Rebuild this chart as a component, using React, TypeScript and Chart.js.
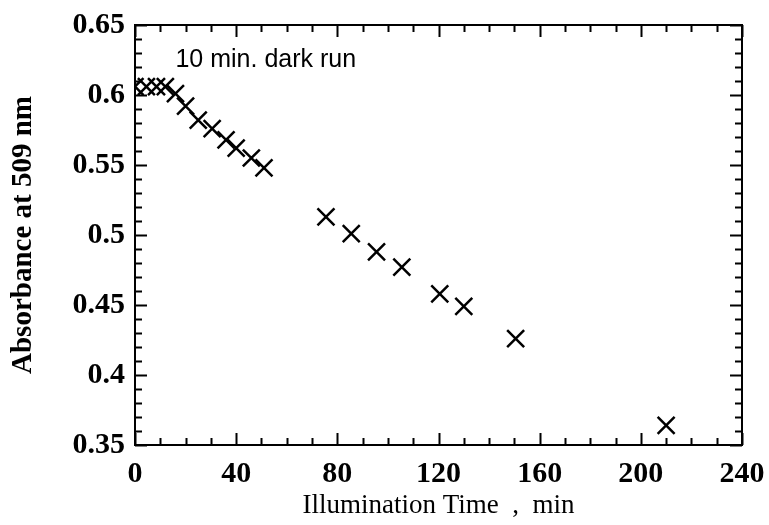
import React, { useEffect, useRef } from "react";
import { Chart, registerables } from "chart.js";

Chart.register(...registerables);

const timeMin = [0, 4.5, 8.5, 12, 16, 20, 25, 30.5, 36, 40, 46, 51, 75.5, 85.5, 95.5, 105.5, 120.5, 130, 150.5, 210];
const absorbance = [0.606, 0.606, 0.606, 0.606, 0.601, 0.592, 0.582, 0.576, 0.568, 0.562, 0.555, 0.548, 0.513, 0.501, 0.488, 0.477, 0.458, 0.449, 0.426, 0.364];

const xTickValues = [0, 40, 80, 120, 160, 200, 240];
const yTickValues = [0.35, 0.4, 0.45, 0.5, 0.55, 0.6, 0.65];
const yTickLabels = ["0.35", "0.4", "0.45", "0.5", "0.55", "0.6", "0.65"];
const xMinorStep = 10;
const yMinorStep = 0.01;

const annotationText = "10 min. dark run";
const annotationAt = { x: 16, y: 0.625 };

const xTitle = "Illumination Time  ,  min";
const yTitle = "Absorbance at 509 nm";

const boxTicksPlugin = {
  id: "boxTicks",
  afterDraw(chart: any) {
    const { ctx, chartArea } = chart;
    const xs = chart.scales.x;
    const ys = chart.scales.y;
    const { left, right, top, bottom } = chartArea;
    ctx.save();
    ctx.strokeStyle = "#000";
    ctx.lineWidth = 2;
    ctx.strokeRect(left, top, right - left, bottom - top);
    const majLen = 12;
    const minLen = 7;
    ctx.lineWidth = 2;
    ctx.beginPath();
    const xMin = xTickValues[0];
    const xMax = xTickValues[xTickValues.length - 1];
    for (let v = xMin; v <= xMax + 1e-9; v += xMinorStep) {
      const isMajor = xTickValues.some((t) => Math.abs(t - v) < 1e-6);
      const len = isMajor ? majLen : minLen;
      const px = Math.round(xs.getPixelForValue(v)) + 0.5;
      ctx.moveTo(px, bottom);
      ctx.lineTo(px, bottom - len);
      ctx.moveTo(px, top);
      ctx.lineTo(px, top + len);
    }
    const yMin = yTickValues[0];
    const yMax = yTickValues[yTickValues.length - 1];
    const n = Math.round((yMax - yMin) / yMinorStep);
    for (let i = 0; i <= n; i++) {
      const v = yMin + i * yMinorStep;
      const isMajor = yTickValues.some((t) => Math.abs(t - v) < 1e-6);
      const len = isMajor ? majLen : minLen;
      const py = Math.round(ys.getPixelForValue(v)) + 0.5;
      ctx.moveTo(left, py);
      ctx.lineTo(left + len, py);
      ctx.moveTo(right, py);
      ctx.lineTo(right - len, py);
    }
    ctx.stroke();

    ctx.fillStyle = "#000";
    ctx.font = "25px 'Liberation Sans', Arial, sans-serif";
    ctx.textAlign = "left";
    ctx.textBaseline = "middle";
    ctx.fillText(annotationText, xs.getPixelForValue(annotationAt.x), ys.getPixelForValue(annotationAt.y));
    ctx.restore();
  },
};

const bgPlugin = {
  id: "bg",
  beforeDraw(chart: any) {
    const { ctx, width, height } = chart;
    ctx.save();
    ctx.fillStyle = "#fff";
    ctx.fillRect(0, 0, width, height);
    ctx.restore();
  },
};

export default function App() {
  const ref = useRef<HTMLCanvasElement | null>(null);
  useEffect(() => {
    if (!ref.current) return;
    const serif = "'Liberation Serif', 'Times New Roman', serif";
    const chart = new Chart(ref.current, {
      type: "scatter",
      data: {
        datasets: [
          {
            data: timeMin.map((t, i) => ({ x: t, y: absorbance[i] })),
            pointStyle: "crossRot",
            pointRadius: 12,
            pointBorderWidth: 2.5,
            borderColor: "#000",
            backgroundColor: "#000",
            showLine: false,
          },
        ],
      },
      options: {
        responsive: false,
        animation: false,
        layout: { padding: { top: 25, right: 27, left: 0, bottom: 0 } },
        plugins: {
          legend: { display: false },
          tooltip: { enabled: false },
        },
        scales: {
          x: {
            type: "linear",
            min: 0,
            max: 240,
            afterBuildTicks: (scale: any) => {
              scale.ticks = xTickValues.map((v) => ({ value: v }));
            },
            afterFit: (scale: any) => {
              scale.height = 80;
              scale.paddingLeft = 0;
              scale.paddingRight = 0;
            },
            grid: { display: false, drawTicks: false, tickLength: 0 },
            border: { display: false },
            ticks: {
              autoSkip: false,
              maxRotation: 0,
              padding: 11,
              color: "#000",
              font: { family: serif, size: 30, weight: "bold" },
              callback: (v: any) => String(v),
            },
            title: {
              display: true,
              text: xTitle,
              color: "#000",
              font: { family: serif, size: 27 },
              padding: { top: 0, bottom: 3 },
            },
          },
          y: {
            type: "linear",
            min: 0.35,
            max: 0.65,
            afterBuildTicks: (scale: any) => {
              scale.ticks = yTickValues.map((v) => ({ value: v }));
            },
            afterFit: (scale: any) => {
              scale.width = 135;
              scale.paddingTop = 0;
              scale.paddingBottom = 0;
            },
            grid: { display: false, drawTicks: false, tickLength: 0 },
            border: { display: false },
            ticks: {
              autoSkip: false,
              padding: 10,
              color: "#000",
              font: { family: serif, size: 30, weight: "bold" },
              callback: (v: any) => {
                const i = yTickValues.findIndex((t) => Math.abs(t - v) < 1e-9);
                return i >= 0 ? yTickLabels[i] : "";
              },
            },
            title: {
              display: true,
              text: yTitle,
              color: "#000",
              font: { family: serif, size: 29, weight: "bold" },
              padding: { top: 6, bottom: 0 },
            },
          },
        },
      },
      plugins: [bgPlugin, boxTicksPlugin],
    });
    return () => chart.destroy();
  }, []);
  return (
    <div style={{ position: "absolute", left: 0, top: 0, width: 769, height: 525 }}>
      <canvas ref={ref} width={769} height={525} style={{ display: "block" }} />
    </div>
  );
}
